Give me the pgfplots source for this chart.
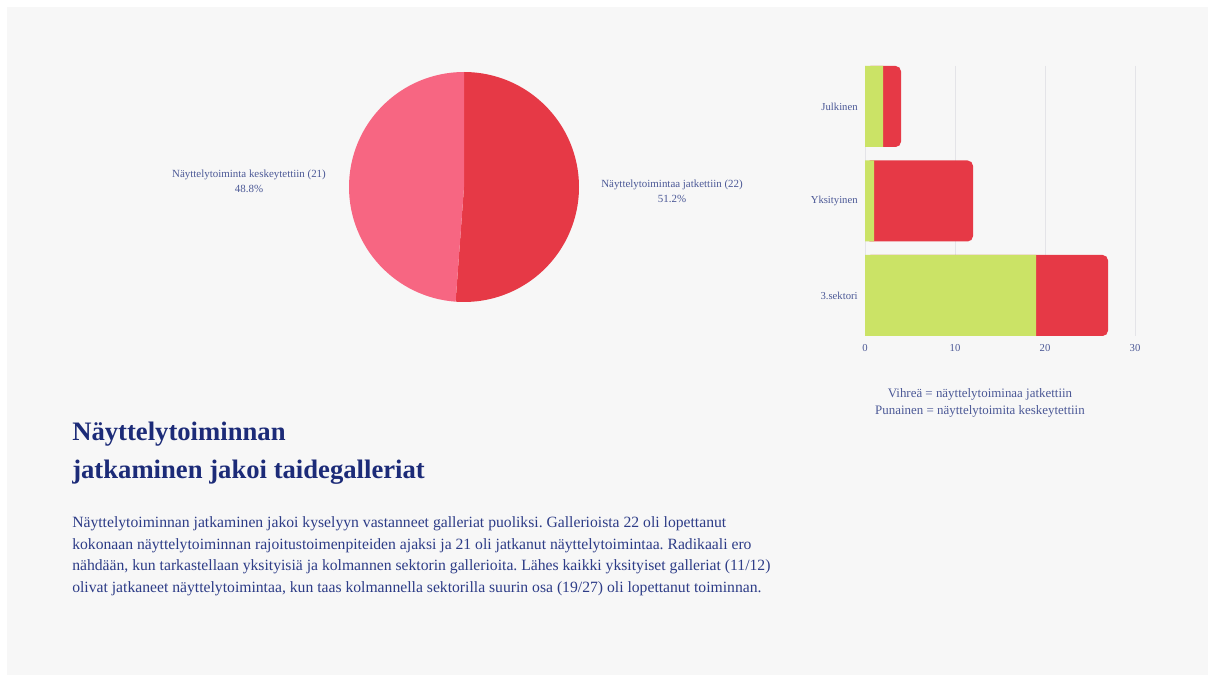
\documentclass[border=0pt]{standalone}
\usepackage{fontspec}
\setmainfont{Liberation Serif}
\usepackage{pgfplots}
\usepackage{pgfplotstable}
\pgfplotsset{compat=1.18}
\definecolor{bgc}{HTML}{F7F7F7}
\definecolor{redc}{HTML}{E63946}
\definecolor{pinkc}{HTML}{F76682}
\definecolor{greenc}{HTML}{CBE366}
\definecolor{gridc}{HTML}{E4E4E8}
\definecolor{labc}{RGB}{75,88,150}
\definecolor{titlec}{RGB}{28,43,120}
\definecolor{bodyc}{RGB}{45,60,135}
\pgfplotstableread{
cat g r
0 2 2
1 1 11
2 19 8
}\bardata
\pgfmathsetmacro{\nJ}{22}
\pgfmathsetmacro{\nK}{21}
\pgfmathsetmacro{\angJ}{360*\nJ/(\nJ+\nK)}
\begin{document}
\frenchspacing
\begin{tikzpicture}
\path[use as bounding box] (0,0) rectangle (911.25pt,511.5pt);
\fill[white] (0,0) rectangle (911.25pt,511.5pt);
\fill[bgc] (5.25pt,5.25pt) rectangle (906pt,506.25pt);
% pie
\begin{axis}[hide axis, scale only axis, width=172.5pt, height=172.5pt,
  xmin=-1, xmax=1, ymin=-1, ymax=1, at={(348pt,371.25pt)}, anchor=center, clip=false]
\fill[redc] (axis cs:0,0) -- (axis cs:0,1) arc[start angle=90, delta angle=-\angJ, radius=86.25pt] -- cycle;
\fill[pinkc] (axis cs:0,0) -- (axis cs:0,1) arc[start angle=90, delta angle=360-\angJ, radius=86.25pt] -- cycle;
\end{axis}
\node[font=\fontsize{8.2}{9}\selectfont, text=labc, anchor=base] at (186.75pt,378pt) {Näyttelytoiminta keskeytettiin (21)};
\node[font=\fontsize{8.2}{9}\selectfont, text=labc, anchor=base] at (186.75pt,366.75pt) {48.8\%};
\node[font=\fontsize{8.2}{9}\selectfont, text=labc, anchor=base] at (504pt,370.5pt) {Näyttelytoimintaa jatkettiin (22)};
\node[font=\fontsize{8.2}{9}\selectfont, text=labc, anchor=base] at (504pt,359.25pt) {51.2\%};
% bars
\begin{axis}[scale only axis, width=202.5pt, height=202.5pt,
  at={(648.75pt,259.5pt)}, anchor=south west,
  xmin=0, xmax=30, ymin=-0.4286, ymax=2.4286, y dir=reverse,
  xbar, bar width=60.75pt,
  xtick={0,10,20,30}, ytick={0,1,2}, yticklabels={Julkinen,Yksityinen,3.sektori},
  xmajorgrids, grid style={gridc, line width=0.6pt},
  axis line style={draw=none}, major tick length=0pt,
  tick label style={font=\fontsize{8}{9}\selectfont, text=labc},
  /pgf/number format/assume math mode=true,
  xticklabel style={yshift=-2.5pt}, yticklabel style={xshift=-2pt},
  clip=false]
\addplot[fill=redc, draw=none, bar shift=0pt, rounded corners=4pt] table[x expr=\thisrow{g}+\thisrow{r}, y=cat]{\bardata};
\addplot[fill=greenc, draw=none, bar shift=0pt] table[x=g, y=cat]{\bardata};
\end{axis}
\node[font=\fontsize{9.7}{11}\selectfont, text=labc, anchor=base] at (735pt,213pt) {Vihreä = näyttelytoiminaa jatkettiin};
\node[font=\fontsize{9.7}{11}\selectfont, text=labc, anchor=base] at (735pt,200.25pt) {Punainen = näyttelytoimita keskeytettiin};
% title
\node[font=\fontsize{20}{24}\selectfont\bfseries, text=titlec, anchor=base west, inner sep=0pt] at (54pt,180.75pt) {Näyttelytoiminnan};
\node[font=\fontsize{20}{24}\selectfont\bfseries, text=titlec, anchor=base west, inner sep=0pt] at (54pt,152.25pt) {jatkaminen jakoi taidegalleriat};
% body
\begin{scope}[every node/.style={font=\fontsize{11.75}{13}\selectfont, text=bodyc, anchor=base west, inner sep=0pt}]
\node at (54pt,115.5pt) {Näyttelytoiminnan jatkaminen jakoi kyselyyn vastanneet galleriat puoliksi. Gallerioista 22 oli lopettanut};
\node at (54pt,99pt) {kokonaan näyttelytoiminnan rajoitustoimenpiteiden ajaksi ja 21 oli jatkanut näyttelytoimintaa. Radikaali ero};
\node at (54pt,83.25pt) {nähdään, kun tarkastellaan yksityisiä ja kolmannen sektorin gallerioita. Lähes kaikki yksityiset galleriat (11/12)};
\node at (54pt,66.75pt) {olivat jatkaneet näyttelytoimintaa, kun taas kolmannella sektorilla suurin osa (19/27) oli lopettanut toiminnan.};
\end{scope}
\end{tikzpicture}
\end{document}
